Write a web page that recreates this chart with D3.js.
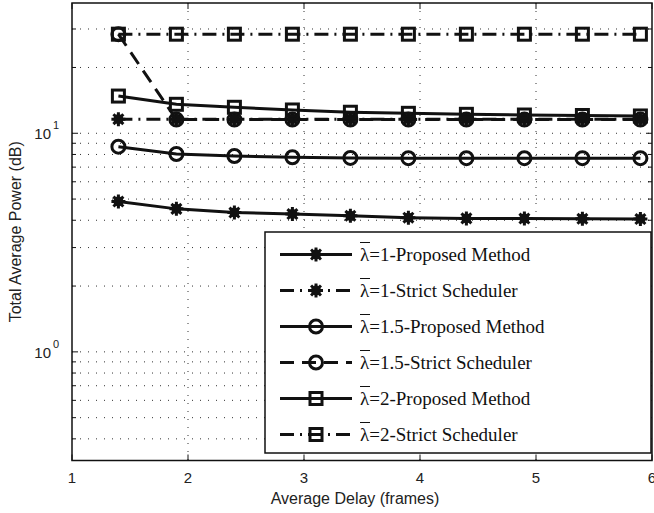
<!DOCTYPE html>
<html><head><meta charset="utf-8">
<script src="https://cdn.jsdelivr.net/npm/d3@7"></script>
<style>body{margin:0;background:#fff}svg{display:block}</style>
</head><body>
<svg id="c" width="654" height="513"></svg>
<script>
// ---- data ----
const delays = [1.4, 1.9, 2.4, 2.9, 3.4, 3.9, 4.4, 4.9, 5.4, 5.9];
const lam1Proposed = [4.87, 4.51, 4.34, 4.27, 4.19, 4.11, 4.08, 4.07, 4.06, 4.05];
const lam1Strict   = [11.6, 11.6, 11.6, 11.6, 11.6, 11.6, 11.6, 11.6, 11.6, 11.6];
const lam15Proposed= [8.68, 8.04, 7.87, 7.77, 7.71, 7.69, 7.69, 7.69, 7.69, 7.69];
const lam15Strict  = [28.4, 11.55, 11.55, 11.55, 11.55, 11.55, 11.55, 11.55, 11.55, 11.55];
const lam2Proposed = [14.8, 13.57, 13.15, 12.78, 12.48, 12.34, 12.21, 12.12, 12.06, 12.0];
const lam2Strict   = [28.4, 28.4, 28.4, 28.4, 28.4, 28.4, 28.4, 28.4, 28.4, 28.4];
const seriesNames = ["=1-Proposed Method","=1-Strict Scheduler","=1.5-Proposed Method","=1.5-Strict Scheduler","=2-Proposed Method","=2-Strict Scheduler"];
const xTicks = [1, 2, 3, 4, 5, 6];
const yMajor = [1, 10];
const xLabel = "Average Delay (frames)";
const yLabel = "Total Average Power (dB)";

const series = [
  {name: seriesNames[0], values: lam1Proposed, marker: "star", dash: null},
  {name: seriesNames[1], values: lam1Strict, marker: "star", dash: "14,6,2,6"},
  {name: seriesNames[2], values: lam15Proposed, marker: "circle", dash: null},
  {name: seriesNames[3], values: lam15Strict, marker: "circle", dash: "14,8"},
  {name: seriesNames[4], values: lam2Proposed, marker: "square", dash: null},
  {name: seriesNames[5], values: lam2Strict, marker: "square", dash: "14,6,2,6"}
];

const L = 72, R = 652, T = 3, B = 460.5;
const svg = d3.select("#c");
const x = d3.scaleLinear().domain([1, 6]).range([L, R]);
const y = d3.scaleLog().domain([Math.pow(10, -0.497), Math.pow(10, 1.596)]).range([B, T]);

// minor ticks
const yMinor = [];
for (let e = -1; e <= 1; e++) for (let m = 1; m <= 9; m++) {
  const v = m * Math.pow(10, e);
  if (v >= y.domain()[0] && v <= y.domain()[1]) yMinor.push(v);
}

// grid
const g = svg.append("g");
g.selectAll(".hg").data(yMinor).enter().append("line")
  .attr("x1", L).attr("x2", R).attr("y1", d => y(d)).attr("y2", d => y(d))
  .attr("stroke", "#333").attr("stroke-width", 1).attr("stroke-dasharray", "1,7");
g.selectAll(".vg").data(xTicks.slice(1, -1)).enter().append("line")
  .attr("x1", d => x(d)).attr("x2", d => x(d)).attr("y1", T).attr("y2", B)
  .attr("stroke", "#333").attr("stroke-width", 1).attr("stroke-dasharray", "1,7");

// ticks inward
const tk = svg.append("g").attr("stroke", "#111").attr("stroke-width", 1);
yMinor.forEach(v => {
  const len = yMajor.includes(v) ? 6 : 4;
  tk.append("line").attr("x1", L).attr("x2", L + len).attr("y1", y(v)).attr("y2", y(v));
  tk.append("line").attr("x1", R).attr("x2", R - len).attr("y1", y(v)).attr("y2", y(v));
});
xTicks.forEach(v => {
  tk.append("line").attr("x1", x(v)).attr("x2", x(v)).attr("y1", B).attr("y2", B - 6);
  tk.append("line").attr("x1", x(v)).attr("x2", x(v)).attr("y1", T).attr("y2", T + 6);
});

// tick labels
const font = "'Liberation Sans', Arial, sans-serif";
svg.append("g").selectAll("text").data(xTicks).enter().append("text")
  .attr("x", d => x(d)).attr("y", 483).attr("text-anchor", "middle")
  .attr("font-family", font).attr("font-size", 15).attr("fill", "#222").text(d => d);
yMajor.forEach(v => {
  svg.append("text").attr("x", 51).attr("y", y(v) + 6).attr("text-anchor", "end")
    .attr("font-family", font).attr("font-size", 15).attr("fill", "#222").text("10");
  svg.append("text").attr("x", 53).attr("y", y(v) - 4)
    .attr("font-family", font).attr("font-size", 11).attr("fill", "#222").text(Math.log10(v));
});
svg.append("text").attr("x", (L + R) / 2 - 7).attr("y", 504).attr("text-anchor", "middle")
  .attr("font-family", font).attr("font-size", 16).attr("fill", "#222").text(xLabel);
svg.append("text").attr("transform", `translate(21,${(T + B) / 2}) rotate(-90)`)
  .attr("text-anchor", "middle").attr("font-family", font).attr("font-size", 16).attr("fill", "#222").text(yLabel);

// markers
function drawMarker(sel, type, cx, cy) {
  if (type === "circle") {
    sel.append("circle").attr("cx", cx).attr("cy", cy).attr("r", 6.5)
      .attr("fill", "none").attr("stroke", "#111").attr("stroke-width", 3);
  } else if (type === "square") {
    sel.append("rect").attr("x", cx - 6).attr("y", cy - 6).attr("width", 12).attr("height", 12)
      .attr("fill", "none").attr("stroke", "#111").attr("stroke-width", 3);
  } else {
    for (let k = 0; k < 4; k++) {
      const a = k * Math.PI / 4, r = 7;
      sel.append("line").attr("x1", cx - r * Math.cos(a)).attr("y1", cy - r * Math.sin(a))
        .attr("x2", cx + r * Math.cos(a)).attr("y2", cy + r * Math.sin(a))
        .attr("stroke", "#111").attr("stroke-width", 3);
    }
    sel.append("circle").attr("cx", cx).attr("cy", cy).attr("r", 5).attr("fill", "#111");
  }
}

// clip
svg.append("clipPath").attr("id", "clip").append("rect").attr("x", L).attr("y", T).attr("width", R - L).attr("height", B - T);
const plot = svg.append("g").attr("clip-path", "url(#clip)");
const line = d3.line().x((d, i) => x(delays[i])).y(d => y(d));
series.forEach(s => {
  const gs = plot.append("g");
  gs.append("path").attr("d", line(s.values)).attr("fill", "none").attr("stroke", "#111")
    .attr("stroke-width", 3).attr("stroke-dasharray", s.dash);
  s.values.forEach((v, i) => drawMarker(gs, s.marker, x(delays[i]), y(v)));
});

// frame
svg.append("rect").attr("x", L).attr("y", T).attr("width", R - L).attr("height", B - T)
  .attr("fill", "none").attr("stroke", "#111").attr("stroke-width", 1.5);

// legend
const lg = svg.append("g");
const lx0 = 265, ly0 = 232, lw = 386, lh = 221;
lg.append("rect").attr("x", lx0).attr("y", ly0).attr("width", lw).attr("height", lh)
  .attr("fill", "#fff").attr("stroke", "#111").attr("stroke-width", 1.5);
series.forEach((s, i) => {
  const cy = 254.5 + i * 36;
  lg.append("line").attr("x1", 280).attr("x2", 352).attr("y1", cy).attr("y2", cy)
    .attr("stroke", "#111").attr("stroke-width", 3).attr("stroke-dasharray", s.dash);
  drawMarker(lg, s.marker, 316, cy);
  const t = lg.append("text").attr("x", 360).attr("y", cy + 6)
    .attr("font-family", "'Liberation Serif', 'Times New Roman', serif").attr("font-size", 19).attr("fill", "#111");
  t.append("tspan").text("λ");
  t.append("tspan").text(s.name);
  lg.append("line").attr("x1", 360).attr("x2", 370).attr("y1", cy - 12).attr("y2", cy - 12)
    .attr("stroke", "#111").attr("stroke-width", 1);
});
</script>
</body></html>
